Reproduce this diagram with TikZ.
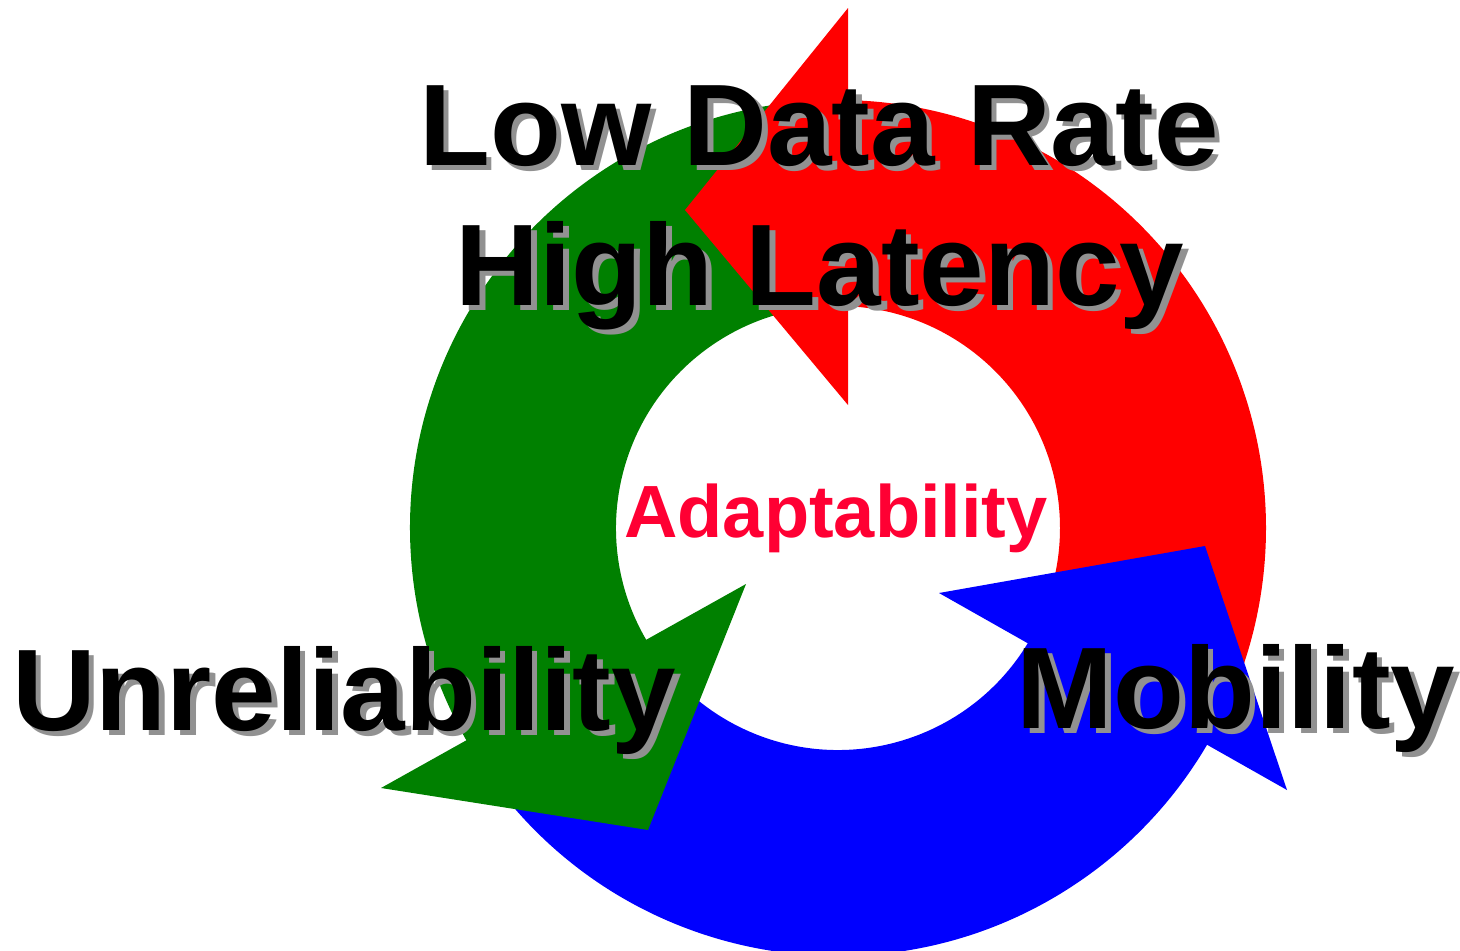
\documentclass[tikz,border=0pt]{standalone}
\usepackage{fontspec}
\setmainfont{Liberation Sans}
\usetikzlibrary{calc}
\definecolor{ringred}{RGB}{255,0,0}
\definecolor{ringgreen}{RGB}{0,128,0}
\definecolor{ringblue}{RGB}{0,0,255}
\definecolor{adapt}{RGB}{255,0,51}
\definecolor{shade}{RGB}{145,145,145}
% text with a grey drop shadow behind it, offset down and to the right
\newcommand{\dropshadow}[1]{\makebox[0pt][l]{\hspace{5.5pt}\raisebox{-5.5pt}{\textcolor{shade}{#1}}}#1}
\begin{document}
\begin{tikzpicture}[x=1pt,y=1pt,
  big/.style={font=\fontsize{116}{120}\selectfont\bfseries, inner sep=0pt, anchor=base},
  center label/.style={font=\fontsize{74}{80}\selectfont\bfseries, text=adapt, inner sep=0pt, anchor=base}]
\useasboundingbox (0,0) rectangle (1460,-951);
\coordinate (O) at (838,-528);
\def\ro{428pt}
\def\ri{222pt}

% ring bodies, each running counter-clockwise up to its own head
\fill[ringred] ($(O)+(-25:428)$) arc[start angle=-25, end angle=90, radius=\ro]
  -- ($(O)+(90:222)$) arc[start angle=90, end angle=-25, radius=\ri] -- cycle;
\fill[ringgreen] ($(O)+(95:428)$) arc[start angle=95, end angle=212, radius=\ro]
  -- ($(O)+(212:222)$) arc[start angle=212, end angle=95, radius=\ri] -- cycle;
\fill[ringblue] ($(O)+(215:428)$) arc[start angle=215, end angle=332, radius=\ro]
  -- ($(O)+(332:222)$) arc[start angle=332, end angle=215, radius=\ri] -- cycle;

% arrow heads
\fill[ringred] (848,-8) -- (685,-210) -- (848,-405) -- cycle;
\fill[ringgreen] (746,-584) -- (648,-830) -- (381,-788) -- cycle;
\fill[ringblue] (939,-593) -- (1205,-546) -- (1287,-790) -- cycle;

% labels
\node[big] (ldr) at (819,-165) {\dropshadow{Low Data Rate}};
\node[big] (hl) at (820,-305) {\dropshadow{High Latency}};
\node[big] (unrel) at (344,-730) {\dropshadow{Unreliability}};
\node[big] (mob) at (1236,-728) {\dropshadow{Mobility}};
\node[center label] (adapt) at (836,-537) {Adaptability};
\end{tikzpicture}
\end{document}
